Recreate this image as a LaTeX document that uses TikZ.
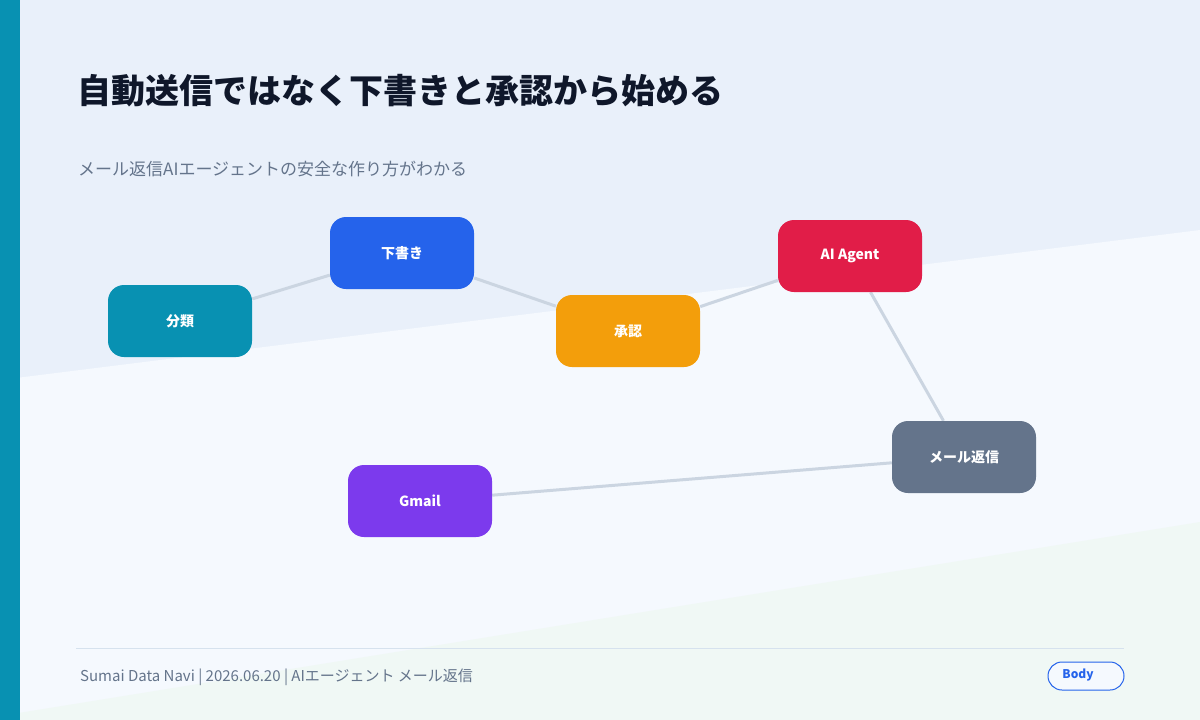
\documentclass[tikz,border=0pt]{standalone}
\usepackage{fontspec}
\setmainfont{Noto Sans CJK JP}
\definecolor{bgtop}{HTML}{E9F0FA}
\definecolor{bgmid}{HTML}{F5F9FE}
\definecolor{bggreen}{HTML}{F0F8F5}
\definecolor{barc}{HTML}{0891B2}
\definecolor{titlec}{HTML}{0F172A}
\definecolor{subc}{HTML}{64748B}
\definecolor{edgec}{HTML}{CBD5E1}
\definecolor{rulec}{HTML}{D6E2EE}
\definecolor{cteal}{HTML}{0891B2}
\definecolor{cblue}{HTML}{2563EB}
\definecolor{camber}{HTML}{F39E0B}
\definecolor{crose}{HTML}{E11D48}
\definecolor{cslate}{HTML}{64748B}
\definecolor{cviolet}{HTML}{7C3AED}
\pgfdeclarelayer{bglayer}
\pgfdeclarelayer{edgelayer}
\pgfsetlayers{bglayer,edgelayer,main}
\tikzset{
  card/.style={draw=none, rounded corners=16pt, minimum width=144pt, minimum height=72pt, text=white, font=\fontsize{14}{16}\selectfont\bfseries, inner sep=0pt},
  link/.style={draw=edgec, line width=3pt},
}
\begin{document}
\begin{tikzpicture}[x=1pt,y=-1pt]
\useasboundingbox (0,0) rectangle (1200,720);
% backgrounds
\begin{pgfonlayer}{bglayer}
\fill[bgtop] (0,0) rectangle (1200,720);
\fill[bgmid] (0,380) -- (1200,230) -- (1200,720) -- (0,720) -- cycle;
\fill[bggreen] (0,716) -- (1200,522) -- (1200,720) -- (0,720) -- cycle;
\fill[barc] (0,0) rectangle (20,720);
\end{pgfonlayer}
% title and subtitle
\node[anchor=base west, inner sep=0pt, text=titlec, font=\fontsize{34}{40}\selectfont\bfseries] (title) at (77,103) {自動送信ではなく下書きと承認から始める};
\node[anchor=base west, inner sep=0pt, text=subc, font=\fontsize{17}{20}\selectfont] (sub) at (78,175) {メール返信AIエージェントの安全な作り方がわかる};
% nodes
\node[card, fill=cteal] (bunrui) at (180,321) {分類};
\node[card, fill=cblue] (shitagaki) at (402,253) {下書き};
\node[card, fill=camber] (shonin) at (628,331) {承認};
\node[card, fill=crose] (agent) at (850,256) {AI Agent};
\node[card, fill=cslate] (henshin) at (964,457) {メール返信};
\node[card, fill=cviolet] (gmail) at (420,501) {Gmail};
% edges
\begin{pgfonlayer}{edgelayer}
\path[link] (bunrui) -- (shitagaki);
\path[link] (shitagaki) -- (shonin);
\path[link] (shonin) -- (agent);
\path[link] (agent) -- (henshin);
\path[link] (henshin) -- (gmail);
\end{pgfonlayer}
% footer
\coordinate (ruleL) at (76,648);
\coordinate (ruleR) at (1124,648);
\draw[rulec, line width=1pt] (ruleL) -- (ruleR);
\node[anchor=base west, inner sep=0pt, text=subc, font=\fontsize{15}{17}\selectfont] (footer) at (80,681) {Sumai Data Navi | 2026.06.20 | AIエージェント メール返信};
\node[draw=cblue, fill=bgmid, line width=1pt, rounded corners=14pt, minimum width=76pt, minimum height=28pt, inner sep=0pt] (pill) at (1086,676) {};
\node[text=cblue, font=\fontsize{12}{14}\selectfont\bfseries, inner sep=0pt] (pilltext) at (1078,675) {Body};
\end{tikzpicture}
\end{document}
